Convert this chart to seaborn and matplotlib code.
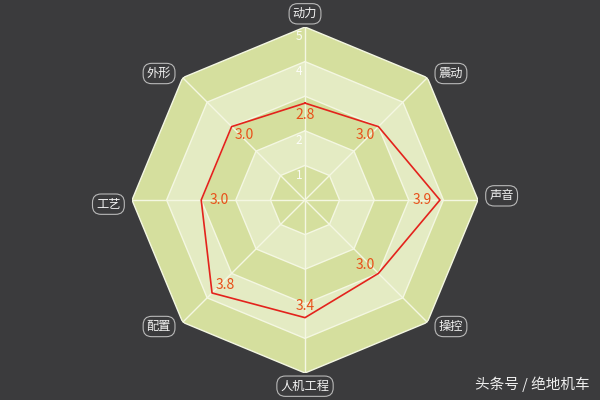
import numpy as np
import pandas as pd
import matplotlib
matplotlib.use("Agg")
import matplotlib.pyplot as plt
import seaborn as sns

categories = ["动力", "震动", "声音", "操控", "人机工程", "配置", "工艺", "外形"]
scores = [2.8, 3.0, 3.9, 3.0, 3.4, 3.8, 3.0, 3.0]
ring_levels = [1, 2, 3, 4, 5]
ring_labels = ["1", "2", "", "4", "5"]  # the "3" is hidden behind the 2.8 label in the reference
watermark = "头条号 / 绝地机车"

BG = "#3b3b3d"
DARK_BAND = "#d5df9e"
LIGHT_BAND = "#e4ebc3"
GRID = "#f4f7e2"
LINE = "#e3231c"
VALUE = "#e8501a"

sns.set_theme(style="dark")
plt.rcParams["font.family"] = ["Noto Sans CJK SC", "DejaVu Sans"]

fig = plt.figure(figsize=(6, 4), dpi=100, facecolor=BG)
ax = fig.add_axes([0.22, 0.0675, 0.5767, 0.865], projection="polar")
ax.set_facecolor("none")
ax.set_theta_zero_location("N")
ax.set_theta_direction(-1)
ax.set_ylim(0, 5)
ax.grid(False)
ax.spines["polar"].set_visible(False)
ax.set_xticks([])
ax.set_yticks([])

n = len(categories)
theta = np.linspace(0, 2 * np.pi, n, endpoint=False)
theta_c = np.append(theta, 2 * np.pi)

# bands
for k in sorted(ring_levels, reverse=True):
    col = DARK_BAND if k % 2 == 1 else LIGHT_BAND
    ax.fill(theta_c, [k] * (n + 1), color=col, lw=0, zorder=1)
# grid rings
for k in ring_levels:
    ax.plot(theta_c, [k] * (n + 1), color=GRID, lw=1.0, zorder=2)
# spokes
for t in theta:
    ax.plot([t, t], [0, max(ring_levels)], color=GRID, lw=1.0, zorder=2)

# ring labels
for k, lab in zip(ring_levels, ring_labels):
    if lab:
        ax.annotate(lab, xy=(0, k - 0.28), xytext=(-4.5, 0), textcoords="offset points",
                    ha="center", va="center", fontsize=8.5, color="white", alpha=0.9, zorder=3)

# data line
df = pd.DataFrame({"theta": theta_c, "score": scores + [scores[0]]})
sns.lineplot(data=df, x="theta", y="score", sort=False, estimator=None,
             color=LINE, lw=1.2, ax=ax, zorder=4)
ax.set_xlabel("")
ax.set_ylabel("")
ax.set_ylim(0, 5)
ax.set_xticks([])
ax.set_yticks([])

# value labels
for t, v in zip(theta, scores):
    dx = -np.sin(t) * 13
    dy = -np.cos(t) * 8.5
    ax.annotate(f"{v:.1f}", xy=(t, v), xytext=(dx, dy), textcoords="offset points",
                ha="center", va="center", fontsize=10, color=VALUE, zorder=5)

# category labels
for t, c in zip(theta, categories):
    s, co = np.sin(t), np.cos(t)
    dx = 17 * np.sign(s) if abs(s) > 0.1 else 0
    dy = 9.5 * co if abs(s) < 0.1 else 3 * np.sign(co)
    ax.annotate(c, xy=(t, max(ring_levels)), xytext=(dx, dy), textcoords="offset points",
                ha="center", va="center", fontsize=8.8, color="#f2f2f2", zorder=6,
                annotation_clip=False,
                bbox=dict(boxstyle="round,pad=0.3,rounding_size=0.7", fc=BG, ec="#b8b8b8", lw=0.8))

fig.text(0.983, 0.04, watermark, ha="right", va="center", fontsize=10.5, color="#eeeeee")

fig.savefig("out.png", dpi=100, facecolor=BG)
